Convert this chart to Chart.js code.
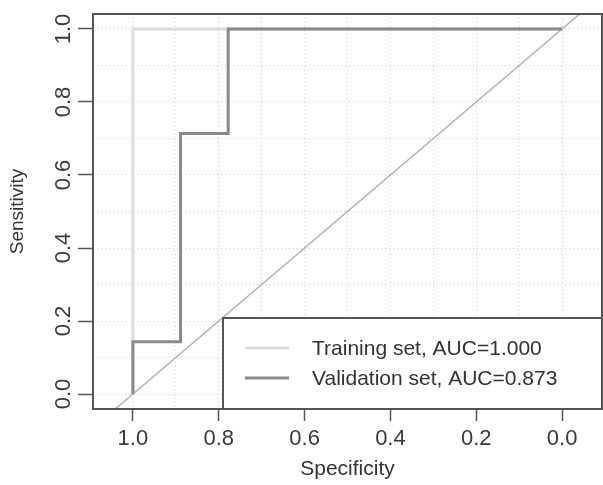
<!DOCTYPE html>
<html>
<head>
<meta charset="utf-8">
<script src="https://cdn.jsdelivr.net/npm/chart.js@4/dist/chart.umd.min.js"></script>
<style>
  body { margin: 0; background: #fff; }
  #wrap { width: 603px; height: 485px; }
</style>
</head>
<body>
<div id="wrap"><canvas id="myChart"></canvas></div>
<script>
// ROC curves, specificity on x (reversed), sensitivity on y
const trainSpec = [1, 1, 0];
const trainSens = [0, 1, 1];
const validSpec = [1, 1, 0.889, 0.889, 0.778, 0.778, 0];
const validSens = [0, 0.143, 0.143, 0.714, 0.714, 1, 1];
// chance line y = 1 - x, runs past the plot and gets clipped
const diagSpec = [1.2, -0.2];
const diagSens = [-0.2, 1.2];

const seriesLabels = ["Training set, AUC=1.000", "Validation set, AUC=0.873"];
const gridVals = [0, 0.1, 0.2, 0.3, 0.4, 0.5, 0.6, 0.7, 0.8, 0.9, 1];
const tickLabels = ["0.0", "0.2", "0.4", "0.6", "0.8", "1.0"];

const FONT = "'Liberation Sans', Arial, Helvetica, sans-serif";
const BOX = "#555555";

function toPoints(xs, ys) {
  let pts = [];
  for (let i = 0; i < xs.length; i++) {
    pts.push({x: xs[i], y: ys[i]});
  }
  return pts;
}

function labelFor(v) {
  let s = v.toFixed(1);
  return tickLabels.indexOf(s) >= 0 ? s : "";
}

function tickCol(ctx) {
  if (!ctx.tick) return "rgba(0,0,0,0)";
  return labelFor(ctx.tick.value) ? BOX : "rgba(0,0,0,0)";
}

// legend in the bottom right corner + frame round the plot
const rocExtras = {
  id: "rocExtras",
  afterDatasetsDraw(chart) {
    const c = chart.ctx, a = chart.chartArea;
    const w = 379, h = 91;
    const lx = a.right - w, ly = a.bottom - h;
    c.save();
    c.fillStyle = "#fff";
    c.fillRect(lx, ly, w, h);
    c.strokeStyle = BOX;
    c.lineWidth = 2;
    c.strokeRect(lx, ly, w, h);
    const ds = chart.data.datasets;
    for (let i = 0; i < 2; i++) {
      const yy = ly + 30 + i * 30;
      c.strokeStyle = ds[i].borderColor;
      c.lineWidth = 3;
      c.beginPath();
      c.moveTo(lx + 22, yy);
      c.lineTo(lx + 66, yy);
      c.stroke();
      c.fillStyle = "#333";
      c.font = "21px " + FONT;
      c.textBaseline = "middle";
      c.fillText(ds[i].label, lx + 89, yy + 1);
    }
    c.restore();
  },
  afterDraw(chart) {
    const c = chart.ctx, a = chart.chartArea;
    c.save();
    c.strokeStyle = BOX;
    c.lineWidth = 2;
    c.strokeRect(a.left, a.top, a.right - a.left, a.bottom - a.top);
    c.restore();
  }
};

const data = {
  datasets: [{
    label: seriesLabels[0],
    data: toPoints(trainSpec, trainSens),
    borderColor: "#dcdcdc",
    borderWidth: 3,
    order: 2
  }, {
    label: seriesLabels[1],
    data: toPoints(validSpec, validSens),
    borderColor: "#8a8a8a",
    borderWidth: 3,
    order: 1
  }, {
    label: "diagonal",
    data: toPoints(diagSpec, diagSens),
    borderColor: "#b4b4b4",
    borderWidth: 1.5,
    order: 3
  }]
};

const config = {
  type: "scatter",
  data: data,
  options: {
    responsive: true,
    maintainAspectRatio: false,
    animation: false,
    showLine: true,
    elements: { point: { radius: 0, hoverRadius: 0 }, line: { tension: 0 } },
    layout: { padding: { top: 14, right: 1, left: 0, bottom: 0 } },
    plugins: { legend: { display: false }, tooltip: { enabled: false } },
    scales: {
      x: {
        type: "linear",
        reverse: true,
        min: -0.093,
        max: 1.093,
        afterBuildTicks: s => { s.ticks = gridVals.map(v => ({value: v})); },
        afterFit: s => { s.height = 76; },
        grid: {
          color: "#cdcdcd",
          lineWidth: 1,
          tickLength: 12,
          tickColor: tickCol,
          tickWidth: 1.5
        },
        border: { display: false, dash: [1, 3] },
        ticks: {
          autoSkip: false,
          maxRotation: 0,
          padding: 5,
          color: "#3a3a3a",
          font: { family: FONT, size: 22 },
          callback: v => labelFor(v)
        },
        title: {
          display: true,
          text: "Specificity",
          color: "#333",
          font: { family: FONT, size: 21 },
          padding: { top: 0, bottom: 3 }
        }
      },
      y: {
        type: "linear",
        min: -0.041,
        max: 1.041,
        afterBuildTicks: s => { s.ticks = gridVals.map(v => ({value: v})); },
        afterFit: s => { s.width = 93; },
        grid: {
          color: "#cdcdcd",
          lineWidth: 1,
          tickLength: 15,
          tickColor: tickCol,
          tickWidth: 1.5
        },
        border: { display: false, dash: [1, 3] },
        ticks: {
          autoSkip: false,
          minRotation: 90,
          maxRotation: 90,
          crossAlign: "center",
          padding: -1,
          color: "#3a3a3a",
          font: { family: FONT, size: 22 },
          callback: v => labelFor(v)
        },
        title: {
          display: true,
          text: "Sensitivity",
          color: "#333",
          font: { family: FONT, size: 19 },
          padding: { top: 6, bottom: 0 }
        }
      }
    }
  },
  plugins: [rocExtras]
};

const ctx = document.getElementById("myChart");
new Chart(ctx, config);
</script>
</body>
</html>
